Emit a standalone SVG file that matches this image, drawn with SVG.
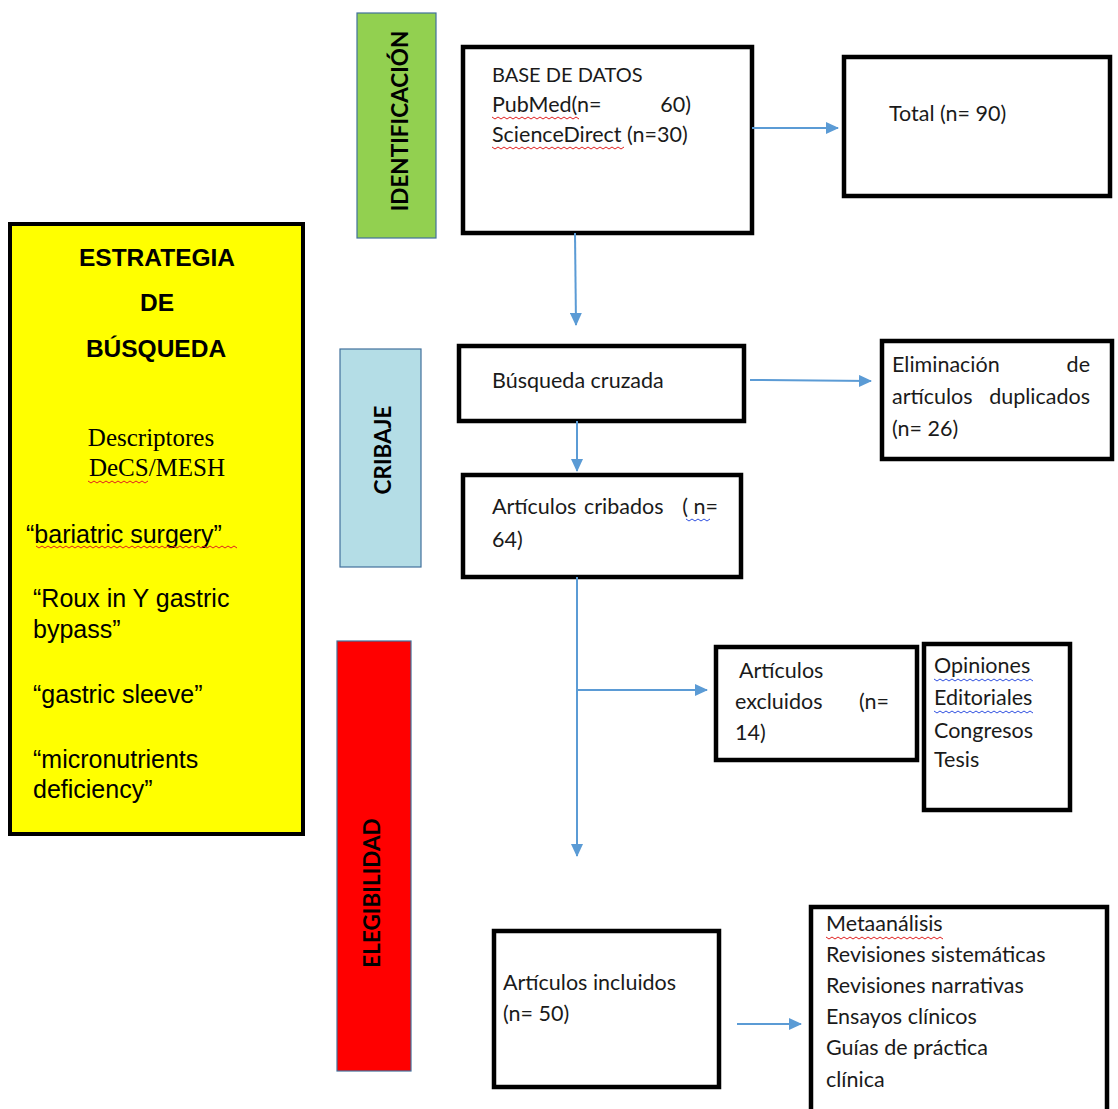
<svg xmlns="http://www.w3.org/2000/svg" width="1118" height="1109" viewBox="0 0 1118 1109">
<style>
.box{fill:#fff;stroke:#000;stroke-width:4.5}
.t{font-family:Lato,"Liberation Sans",sans-serif;font-size:21.5px;fill:#1a1a1a}
.a{font-family:"Liberation Sans",Arial,sans-serif;font-size:25px;fill:#000}
.h{font-family:"Liberation Sans",Arial,sans-serif;font-size:24.5px;font-weight:bold;fill:#000;text-anchor:middle}
.s{font-family:"Liberation Serif","Times New Roman",serif;font-size:25px;fill:#000;text-anchor:middle}
.v{font-family:Lato,"Liberation Sans",sans-serif;font-size:22.5px;font-weight:bold;fill:#000;text-anchor:middle}
.c{stroke:#5B9BD5;stroke-width:2;fill:none}
.sq{fill:none;stroke-width:1;stroke:#e02020}
.sqb{fill:none;stroke-width:1;stroke:#3050e0}
</style>
<defs>
<marker id="ar" markerWidth="13" markerHeight="12" refX="12" refY="6" orient="auto" markerUnits="userSpaceOnUse" viewBox="0 0 13 12">
<path d="M0,0 L13,6 L0,12 Z" fill="#5B9BD5"/>
</marker>
</defs>
<rect width="1118" height="1109" fill="#fff"/>

<g id="estrategia">
<rect x="10" y="224" width="293" height="610" fill="#FFFF00" stroke="#000" stroke-width="4"/>
<text class="h" x="157" y="266">ESTRATEGIA</text>
<text class="h" x="157" y="311">DE</text>
<text class="h" x="156" y="357">BÚSQUEDA</text>
<text class="s" x="151" y="446">Descriptores</text>
<text class="s" x="157" y="476">DeCS/MESH</text>
<text class="a" x="26" y="543">“bariatric surgery”</text>
<text class="a" x="33" y="607">“Roux in Y gastric</text>
<text class="a" x="33" y="638">bypass”</text>
<text class="a" x="33" y="703">“gastric sleeve”</text>
<text class="a" x="33" y="768">“micronutrients</text>
<text class="a" x="33" y="798">deficiency”</text>
<path class="sq" d="M88,481 l3,2 l3,-2 l3,2 l3,-2 l3,2 l3,-2 l3,2 l3,-2 l3,2 l3,-2 l3,2 l3,-2 l3,2 l3,-2 l3,2 l3,-2 l3,2 l3,-2 l3,2 l3,-2"/>
<path class="sq" d="M36,546 l3,2 l3,-2 l3,2 l3,-2 l3,2 l3,-2 l3,2 l3,-2 l3,2 l3,-2 l3,2 l3,-2 l3,2 l3,-2 l3,2 l3,-2 l3,2 l3,-2 l3,2 l3,-2 l3,2 l3,-2 l3,2 l3,-2 l3,2 l3,-2 l3,2 l3,-2 l3,2 l3,-2 l3,2 l3,-2 l3,2 l3,-2 l3,2 l3,-2 l3,2 l3,-2 l3,2 l3,-2 l3,2 l3,-2 l3,2 l3,-2 l3,2 l3,-2 l3,2 l3,-2 l3,2 l3,-2 l3,2 l3,-2 l3,2 l3,-2 l3,2 l3,-2 l3,2 l3,-2 l3,2 l3,-2 l3,2 l3,-2 l3,2 l3,-2 l3,2 l3,-2 l3,2"/>
</g>

<g id="identificacion">
<rect x="357" y="13" width="79" height="225" fill="#92D050" stroke="#41719C" stroke-width="1.2"/>
<text class="v" transform="translate(408,121) rotate(-90)">IDENTIFICACIÓN</text>
</g>

<g id="cribaje">
<rect x="340" y="349" width="81" height="218" fill="#B4DDE6" stroke="#41719C" stroke-width="1.2"/>
<text class="v" transform="translate(391,450) rotate(-90)">CRIBAJE</text>
</g>

<g id="elegibilidad">
<rect x="337" y="641" width="74" height="430" fill="#FF0000" stroke="#41719C" stroke-width="1.2"/>
<text class="v" transform="translate(380,893) rotate(-90)">ELEGIBILIDAD</text>
</g>

<g id="base-datos">
<rect class="box" x="463" y="47" width="289" height="186"/>
<text class="t" x="492" y="82" style="font-size:20px">BASE DE DATOS</text>
<text class="t" x="492" y="112">PubMed(n=</text>
<text class="t" x="691" y="112" text-anchor="end">60)</text>
<text class="t" x="492" y="142">ScienceDirect (n=30)</text>
<path class="sq" d="M492,117 l3,2 l3,-2 l3,2 l3,-2 l3,2 l3,-2 l3,2 l3,-2 l3,2 l3,-2 l3,2 l3,-2 l3,2 l3,-2 l3,2 l3,-2 l3,2 l3,-2 l3,2 l3,-2 l3,2 l3,-2 l3,2 l3,-2 l3,2 l3,-2 l3,2 l3,-2 l3,2"/>
<path class="sq" d="M492,147 l3,2 l3,-2 l3,2 l3,-2 l3,2 l3,-2 l3,2 l3,-2 l3,2 l3,-2 l3,2 l3,-2 l3,2 l3,-2 l3,2 l3,-2 l3,2 l3,-2 l3,2 l3,-2 l3,2 l3,-2 l3,2 l3,-2 l3,2 l3,-2 l3,2 l3,-2 l3,2 l3,-2 l3,2 l3,-2 l3,2 l3,-2 l3,2 l3,-2 l3,2 l3,-2 l3,2 l3,-2 l3,2 l3,-2 l3,2 l3,-2"/>
</g>

<g id="total">
<rect class="box" x="844" y="57" width="266" height="139"/>
<text class="t" x="889" y="121">Total (n= 90)</text>
</g>

<g id="busqueda">
<rect class="box" x="459" y="346" width="285" height="75"/>
<text class="t" x="492" y="388">Búsqueda cruzada</text>
</g>

<g id="eliminacion">
<rect class="box" x="882" y="341" width="230" height="118"/>
<text class="t" x="892" y="372">Eliminación</text>
<text class="t" x="1090" y="372" text-anchor="end">de</text>
<text class="t" x="892" y="404">artículos</text>
<text class="t" x="1090" y="404" text-anchor="end">duplicados</text>
<text class="t" x="892" y="436">(n= 26)</text>
</g>

<g id="cribados">
<rect class="box" x="463" y="475" width="278" height="102"/>
<text class="t" x="492" y="514">Artículos</text>
<text class="t" x="584" y="514">cribados</text>
<text class="t" x="718" y="514" text-anchor="end">( n=</text>
<text class="t" x="492" y="547">64)</text>
<path class="sqb" d="M686,519 l3,2 l3,-2 l3,2 l3,-2 l3,2 l3,-2 l3,2 l3,-2"/>
</g>

<g id="excluidos">
<rect class="box" x="716" y="647" width="201" height="113"/>
<text class="t" x="739" y="678">Artículos</text>
<text class="t" x="735" y="709">excluidos</text>
<text class="t" x="889" y="709" text-anchor="end">(n=</text>
<text class="t" x="735" y="740">14)</text>
</g>

<g id="tipos-excluidos">
<rect class="box" x="924" y="644" width="146" height="166"/>
<text class="t" x="934" y="673">Opiniones</text>
<text class="t" x="934" y="705">Editoriales</text>
<text class="t" x="934" y="738">Congresos</text>
<text class="t" x="934" y="767">Tesis</text>
<path class="sqb" d="M934,679 l3,2 l3,-2 l3,2 l3,-2 l3,2 l3,-2 l3,2 l3,-2 l3,2 l3,-2 l3,2 l3,-2 l3,2 l3,-2 l3,2 l3,-2 l3,2 l3,-2 l3,2 l3,-2 l3,2 l3,-2 l3,2 l3,-2 l3,2 l3,-2 l3,2 l3,-2 l3,2 l3,-2 l3,2 l3,-2 l3,2"/>
<path class="sqb" d="M934,711 l3,2 l3,-2 l3,2 l3,-2 l3,2 l3,-2 l3,2 l3,-2 l3,2 l3,-2 l3,2 l3,-2 l3,2 l3,-2 l3,2 l3,-2 l3,2 l3,-2 l3,2 l3,-2 l3,2 l3,-2 l3,2 l3,-2 l3,2 l3,-2 l3,2 l3,-2 l3,2 l3,-2 l3,2 l3,-2 l3,2"/>
</g>

<g id="incluidos">
<rect class="box" x="494" y="931" width="225" height="156"/>
<text class="t" x="503" y="990">Artículos incluidos</text>
<text class="t" x="503" y="1021">(n= 50)</text>
</g>

<g id="tipos-incluidos">
<rect class="box" x="811" y="907" width="296" height="210"/>
<text class="t" x="826" y="931">Metaanálisis</text>
<text class="t" x="826" y="962">Revisiones sistemáticas</text>
<text class="t" x="826" y="993">Revisiones narrativas</text>
<text class="t" x="826" y="1024">Ensayos clínicos</text>
<text class="t" x="826" y="1055">Guías de práctica</text>
<text class="t" x="826" y="1087">clínica</text>
<path class="sq" d="M826,937 l3,2 l3,-2 l3,2 l3,-2 l3,2 l3,-2 l3,2 l3,-2 l3,2 l3,-2 l3,2 l3,-2 l3,2 l3,-2 l3,2 l3,-2 l3,2 l3,-2 l3,2 l3,-2 l3,2 l3,-2 l3,2 l3,-2 l3,2 l3,-2 l3,2 l3,-2 l3,2 l3,-2 l3,2 l3,-2 l3,2 l3,-2 l3,2 l3,-2 l3,2 l3,-2 l3,2"/>
</g>

<g id="connectors">
<line class="c" x1="752" y1="128" x2="838" y2="128" marker-end="url(#ar)"/>
<line class="c" x1="575" y1="233" x2="576" y2="325" marker-end="url(#ar)"/>
<line class="c" x1="750" y1="380" x2="871" y2="381" marker-end="url(#ar)"/>
<line class="c" x1="577" y1="421" x2="577" y2="471" marker-end="url(#ar)"/>
<line class="c" x1="577" y1="577" x2="577" y2="856" marker-end="url(#ar)"/>
<line class="c" x1="577" y1="690" x2="707" y2="690" marker-end="url(#ar)"/>
<line class="c" x1="737" y1="1024" x2="801" y2="1024" marker-end="url(#ar)"/>
</g>
</svg>
